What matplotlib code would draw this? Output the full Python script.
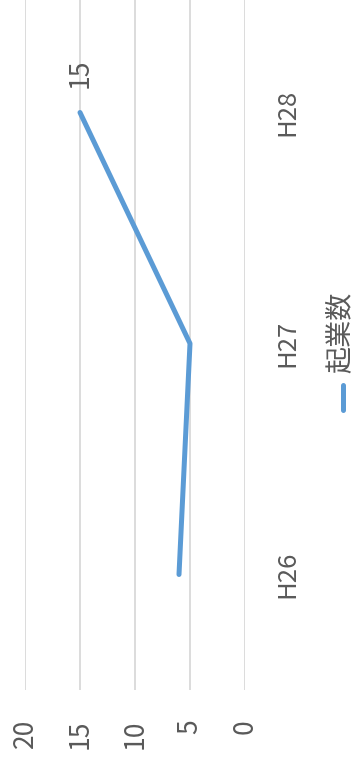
import matplotlib.pyplot as plt
from matplotlib.lines import Line2D

plt.rcParams['font.family'] = ['Noto Sans CJK JP', 'DejaVu Sans']

# 起業数 by fiscal year
years = ['H26', 'H27', 'H28']
counts = [6, 5, 15]
value_ticks = [0, 5, 10, 15, 20]
series_name = '起業数'

LINE_COLOR = '#5B9BD5'
GRID_COLOR = '#D9D9D9'
TEXT_COLOR = '#595959'

W, H = 355, 761
fig = plt.figure(figsize=(W / 100, H / 100), dpi=100)

# chart is laid out turned on its side: values run right-to-left, years bottom-to-top
ax = fig.add_axes([25 / W, (H - 690) / H, 220 / W, 690 / H])
pos = [i + 0.5 for i in range(len(years))]
ax.plot(counts, pos, color=LINE_COLOR, lw=3.6, solid_capstyle='round',
        solid_joinstyle='round', zorder=3)

ax.set_xlim(max(value_ticks), min(value_ticks))
ax.set_ylim(0, 690 / 231)
ax.set_xticks(value_ticks)
ax.set_xticklabels([str(v) for v in value_ticks], rotation=90,
                   fontsize=19, color=TEXT_COLOR)
ax.tick_params(axis='x', length=0, pad=21)
ax.yaxis.tick_right()
ax.set_yticks(pos)
ax.set_yticklabels(years, rotation=90, fontsize=18.5, color=TEXT_COLOR, va='center')
ax.tick_params(axis='y', length=0, pad=21)
ax.grid(axis='x', color=GRID_COLOR, lw=1.3)
ax.set_axisbelow(True)
for s in ax.spines.values():
    s.set_visible(False)

# value label on the last point
ax.annotate(str(counts[-1]), (counts[-1], pos[-1]), xytext=(0, 28),
            textcoords='offset points', rotation=90, ha='center', va='center',
            fontsize=19, color=TEXT_COLOR)

# legend
fig.add_artist(Line2D([343 / W, 343 / W], [1 - 385 / H, 1 - 410 / H],
                      color=LINE_COLOR, lw=3.6, solid_capstyle='round'))
fig.text(340 / W, 1 - 332 / H, series_name, rotation=90, ha='center', va='center',
         fontsize=19.5, color=TEXT_COLOR)

fig.savefig('out.png', dpi=100)
